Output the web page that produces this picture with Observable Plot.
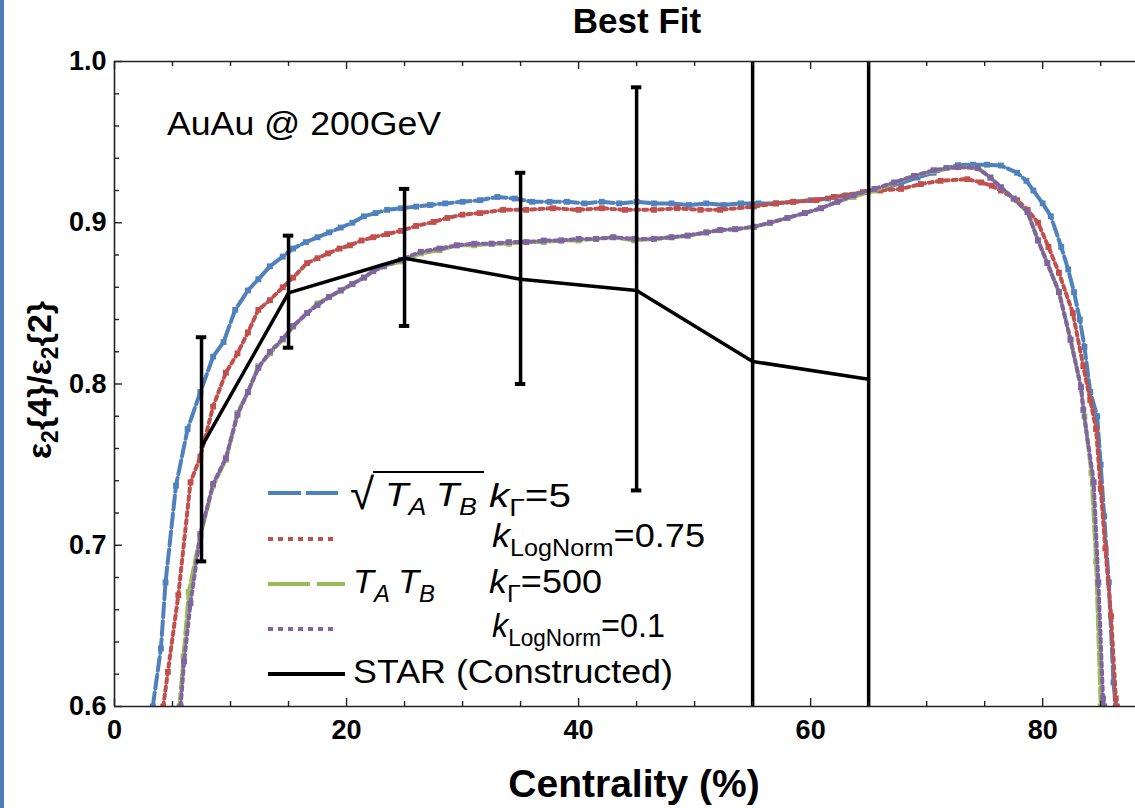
<!DOCTYPE html>
<html>
<head>
<meta charset="utf-8">
<script src="https://cdn.jsdelivr.net/npm/d3@7"></script>
<script src="https://cdn.jsdelivr.net/npm/@observablehq/plot@0.6"></script>
<style>
  html, body { margin: 0; padding: 0; background: #fff; overflow: hidden; }
  #chart svg { font-family: "Liberation Sans", Arial, sans-serif; display: block; }
</style>
</head>
<body>
<div id="chart"></div>
<script>
// ---- data ----
const blueC = [3.3,4.0,4.4,5.3,6.3,7.4,8.5,9.4,10.4,11.5,12.4,13.4,14.5,15.4,16.5,17.5,18.5,19.5,20.5,21.5,22.5,23.5,24.7,26,27.2,28.5,30,31.5,33,34.5,36,37.5,39,40.5,42,43.5,45,46.5,48,49.5,51,52.5,54,55.5,57,58.5,60,61.5,63,64.9,66.5,67.8,69.2,70.6,71.7,72.7,74,75.2,76.4,77.8,78.6,79.2,80.0,80.7,81.6,82.2,82.7,83.2,83.6,84.1,84.7,85.0,85.3,85.7,86.1,86.3];
const blueV = [0.600,0.636,0.677,0.737,0.772,0.795,0.817,0.826,0.846,0.858,0.865,0.873,0.879,0.884,0.888,0.891,0.894,0.897,0.900,0.904,0.906,0.908,0.909,0.910,0.911,0.912,0.913,0.914,0.916,0.915,0.913,0.913,0.913,0.912,0.913,0.912,0.913,0.912,0.912,0.911,0.912,0.911,0.912,0.912,0.912,0.913,0.914,0.915,0.917,0.919,0.922,0.9245,0.928,0.931,0.934,0.9357,0.936,0.936,0.9355,0.931,0.926,0.920,0.912,0.904,0.885,0.871,0.857,0.840,0.823,0.795,0.780,0.750,0.718,0.677,0.615,0.600];

const redC = [4.2,4.6,5.5,6.55,7.4,8.5,9.6,10.6,11.5,12.4,13.4,14.5,15.4,16.6,17.5,18.4,19.4,20.3,21.3,22.3,23.5,24.7,26,27.5,28.7,30,31.5,33.5,35.5,37.8,40,42,44,46.5,48.5,50.5,52.2,55.1,57,58.5,60.5,62,64.5,66,67.8,69.5,71.2,73.5,74.7,75.6,76.4,77.8,78.7,79.6,80.5,81.4,82.6,83.5,84.1,84.6,85.0,85.4,85.9,86.3,86.4];
const redV = [0.600,0.6215,0.669,0.739,0.755,0.786,0.807,0.819,0.832,0.846,0.852,0.860,0.866,0.875,0.878,0.881,0.884,0.886,0.889,0.891,0.893,0.895,0.898,0.9005,0.903,0.905,0.906,0.908,0.908,0.909,0.908,0.909,0.908,0.908,0.909,0.908,0.908,0.910,0.912,0.913,0.914,0.916,0.919,0.920,0.921,0.924,0.926,0.927,0.925,0.923,0.920,0.914,0.908,0.900,0.885,0.869,0.844,0.811,0.790,0.772,0.735,0.698,0.656,0.605,0.600];

const greenC = [5.6,5.95,6.4,7.4,8.5,9.6,10.6,11.5,12.4,13.4,14.5,15.4,16.6,17.5,18.5,19.5,20.5,21.5,22.3,23.2,24.7,26.4,28,29.5,31,32.5,34,35.5,37,38.5,40,41.5,43,44.8,46.5,48,49.4,51,52.2,53.5,55.1,56.5,58,59.5,60.9,62.3,63.7,65.5,67.2,68.9,70.6,72.7,74.4,75.5,76.4,77.5,78.7,79.6,80.4,81.4,82.4,83.3,83.6,84.2,84.6,85.0];
const greenV = [0.600,0.631,0.671,0.706,0.737,0.753,0.782,0.795,0.811,0.819,0.8275,0.8355,0.844,0.850,0.854,0.858,0.862,0.866,0.870,0.873,0.876,0.881,0.883,0.886,0.886,0.887,0.887,0.888,0.888,0.889,0.889,0.890,0.891,0.889,0.890,0.891,0.892,0.894,0.8955,0.896,0.8975,0.900,0.903,0.906,0.909,0.913,0.916,0.920,0.9245,0.929,0.932,0.9345,0.934,0.928,0.922,0.915,0.9066,0.889,0.875,0.857,0.8275,0.798,0.780,0.745,0.690,0.600];

const purpleC = [5.7,6.0,6.55,7.4,8.5,9.6,10.6,11.5,12.4,13.4,14.5,15.4,16.6,17.5,18.5,19.5,20.5,21.5,22.3,23.2,24.7,26.4,28,29.5,31,32.5,34,35.5,37,38.5,40,41.5,43,44.8,46.5,48,49.4,51,52.2,53.5,55.1,56.5,58,59.5,60.9,62.3,63.7,65.5,67.2,68.9,70.6,72.7,74.4,75.5,76.4,77.5,78.7,79.6,80.4,81.4,82.4,83.3,83.5,84.4,84.8,85.2,85.3];
const purpleV = [0.600,0.628,0.664,0.707,0.738,0.754,0.781,0.795,0.810,0.820,0.828,0.836,0.844,0.849,0.854,0.858,0.862,0.866,0.870,0.873,0.877,0.882,0.884,0.886,0.887,0.887,0.888,0.888,0.889,0.889,0.890,0.890,0.891,0.890,0.890,0.891,0.892,0.894,0.8955,0.896,0.8975,0.900,0.903,0.906,0.909,0.913,0.917,0.921,0.925,0.929,0.9326,0.9345,0.934,0.928,0.922,0.915,0.9066,0.889,0.875,0.857,0.8275,0.798,0.784,0.739,0.677,0.605,0.600];

const starC  = [7.5, 15, 25, 35, 45, 55, 65];
const starV  = [0.761, 0.8565, 0.878, 0.865, 0.858, 0.814, 0.803];
const starLo = [0.690, 0.8225, 0.836, 0.800, 0.734, 0.50, 0.50];
const starHi = [0.829, 0.892, 0.921, 0.931, 0.984, 1.10, 1.10];

const xTickLabels = [0, 20, 40, 60, 80];
const yTickLabels = [0.6, 0.7, 0.8, 0.9, 1.0];
const xMinorTicks = d3.range(5, 90, 5).filter(d => d % 20 !== 0);
const yMinorTicks = d3.range(0.62, 1.0, 0.02).filter(d => Math.abs(d * 10 - Math.round(d * 10)) > 1e-6);

const colors = { blue: "#4F81BD", red: "#C0504D", green: "#9BBB59", purple: "#8064A2" };

// ---- build tables ----
const mk = (cs, vs) => cs.map((c, i) => ({ c, v: vs[i] }));
const blue = mk(blueC, blueV), red = mk(redC, redV), green = mk(greenC, greenV), purple = mk(purpleC, purpleV);
const star = starC.map((c, i) => ({ c, v: starV[i], lo: starLo[i], hi: starHi[i] }));

const W = 1135, H = 808, mL = 114, mR = 0, mT = 61, mB = 102;
const innerW = W - mL - mR, innerH = H - mT - mB;
const capHalf = 0.45;

function series(data, color, dash, lineW) {
  return [
    Plot.line(data, { x: "c", y: "v", stroke: color, strokeWidth: lineW, strokeDasharray: dash, clip: true }),
    Plot.dot(data, { x: "c", y: "v", symbol: "square", r: 3.3, fill: color, stroke: "none", clip: true })
  ];
}

const svg = Plot.plot({
  width: W, height: H,
  marginLeft: mL, marginRight: mR, marginTop: mT, marginBottom: mB,
  x: { domain: [0, 88] },
  y: { domain: [0.6, 1.0] },
  style: { fontFamily: "'Liberation Sans', Arial, sans-serif", background: "white" },
  marks: [
    // curves
    ...series(blue, colors.blue, "14,4", 4),
    ...series(red, colors.red, "4,4", 4),
    ...series(green, colors.green, "14,4", 4),
    ...series(purple, colors.purple, "4,4", 4),
    // STAR
    Plot.ruleX(star, { x: "c", y1: "lo", y2: "hi", stroke: "black", strokeWidth: 3.5, clip: true }),
    Plot.ruleY(star, { y: "hi", x1: d => d.c - capHalf, x2: d => d.c + capHalf, stroke: "black", strokeWidth: 4, clip: true }),
    Plot.ruleY(star, { y: "lo", x1: d => d.c - capHalf, x2: d => d.c + capHalf, stroke: "black", strokeWidth: 4, clip: true }),
    Plot.line(star, { x: "c", y: "v", stroke: "black", strokeWidth: 3.5, clip: true }),
    // frame
    Plot.ruleX([0], { stroke: "#222", strokeWidth: 1.6 }),
    Plot.ruleY([0.6], { stroke: "#222", strokeWidth: 1.6 }),
    Plot.ruleY([1.0], { stroke: "#222", strokeWidth: 1.6 }),
    // inward ticks
    Plot.tickX(xTickLabels, { x: d => d, insetTop: innerH - 8, stroke: "#222", strokeWidth: 1.4 }),
    Plot.tickX(xMinorTicks, { x: d => d, insetTop: innerH - 5, stroke: "#222", strokeWidth: 1.4 }),
    Plot.tickX(xTickLabels, { x: d => d, insetBottom: innerH - 8, stroke: "#222", strokeWidth: 1.4 }),
    Plot.tickX(xMinorTicks, { x: d => d, insetBottom: innerH - 5, stroke: "#222", strokeWidth: 1.4 }),
    Plot.tickY(yTickLabels, { y: d => d, insetRight: innerW - 8, stroke: "#222", strokeWidth: 1.4 }),
    Plot.tickY(yMinorTicks, { y: d => d, insetRight: innerW - 5, stroke: "#222", strokeWidth: 1.4 }),
    // axis labels
    Plot.axisX({ anchor: "bottom", ticks: xTickLabels, tickSize: 0, tickPadding: 13, fontSize: 27, fontWeight: "bold", label: null }),
    Plot.axisY({ anchor: "left", ticks: yTickLabels, tickFormat: d3.format(".1f"), tickSize: 0, tickPadding: 8, fontSize: 27, fontWeight: "bold", label: null })
  ]
});

document.getElementById("chart").appendChild(svg);

// ---- annotations: title, axis titles, legend ----
const s = d3.select(svg);
s.append("rect").attr("x", 0).attr("y", 0).attr("width", 4).attr("height", H).attr("fill", "#4A7EBB");

s.append("text").attr("x", 637).attr("y", 33).attr("text-anchor", "middle")
  .attr("font-size", 35).attr("font-weight", "bold").attr("fill", "#000").text("Best Fit");

s.append("text").attr("x", 634).attr("y", 797).attr("text-anchor", "middle")
  .attr("font-size", 39).attr("font-weight", "bold").attr("fill", "#000").text("Centrality (%)");

const yl = s.append("text").attr("transform", "translate(51,380) rotate(-90)").attr("text-anchor", "middle")
  .attr("font-size", 34).attr("font-weight", "bold").attr("fill", "#000");
yl.append("tspan").text("ε");
yl.append("tspan").attr("font-size", 23).attr("dy", 7).text("2");
yl.append("tspan").attr("dy", -7).text("{4}/ε");
yl.append("tspan").attr("font-size", 23).attr("dy", 7).text("2");
yl.append("tspan").attr("dy", -7).text("{2}");

s.append("text").attr("x", 167).attr("y", 135).attr("text-anchor", "start").attr("font-size", 33)
  .attr("textLength", 274).attr("lengthAdjust", "spacingAndGlyphs").attr("fill", "#000").text("AuAu @ 200GeV");

// legend samples
const legendRows = [
  { y: 493, color: colors.blue, dash: "33,5", x2: 338, w: 4 },
  { y: 539, color: colors.red, dash: "5,5", x2: 338, w: 4 },
  { y: 584, color: colors.green, dash: "42,7", x2: 345, w: 4 },
  { y: 629, color: colors.purple, dash: "5,5", x2: 338, w: 4 },
  { y: 674, color: "#000", dash: null, x2: 345, w: 4 }
];
legendRows.forEach(r => {
  const l = s.append("line").attr("x1", 268).attr("x2", r.x2).attr("y1", r.y).attr("y2", r.y)
    .attr("stroke", r.color).attr("stroke-width", r.w);
  if (r.dash) l.attr("stroke-dasharray", r.dash);
});

const FS = 33, SUB = 23, SD = 9;
function tatb(x, y, len) {
  const t = s.append("text").attr("x", x).attr("y", y).attr("text-anchor", "start").attr("font-size", FS)
    .attr("fill", "#000").attr("font-style", "italic").attr("textLength", len).attr("lengthAdjust", "spacingAndGlyphs");
  t.append("tspan").text("T");
  t.append("tspan").attr("font-size", SUB).attr("dy", SD).text("A");
  t.append("tspan").attr("dy", -SD).attr("dx", 8).text("T");
  t.append("tspan").attr("font-size", SUB).attr("dy", SD).text("B");
  return t;
}
function kline(x, y, sub, val, len) {
  const t = s.append("text").attr("x", x).attr("y", y).attr("text-anchor", "start").attr("font-size", FS)
    .attr("fill", "#000").attr("textLength", len).attr("lengthAdjust", "spacingAndGlyphs");
  t.append("tspan").attr("font-style", "italic").text("k");
  t.append("tspan").attr("font-size", SUB).attr("dy", SD).text(sub);
  t.append("tspan").attr("dy", -SD).text("=" + val);
}
// row 1
s.append("text").attr("x", 350).attr("y", 509).attr("text-anchor", "start").attr("font-size", 44).attr("fill", "#000").text("√");
s.append("line").attr("x1", 373).attr("x2", 484).attr("y1", 472).attr("y2", 472).attr("stroke", "#000").attr("stroke-width", 2);
tatb(385, 506, 92);
kline(489, 507, "Γ", "5", 82);
// row 2
kline(492, 547, "LogNorm", "0.75", 213);
// row 3
tatb(353, 593, 82);
kline(489, 593, "Γ", "500", 113);
// row 4
kline(492, 637, "LogNorm", "0.1", 173);
// row 5
s.append("text").attr("x", 353).attr("y", 683).attr("text-anchor", "start").attr("font-size", FS)
  .attr("textLength", 320).attr("lengthAdjust", "spacingAndGlyphs").attr("fill", "#000").text("STAR (Constructed)");
</script>
</body>
</html>
